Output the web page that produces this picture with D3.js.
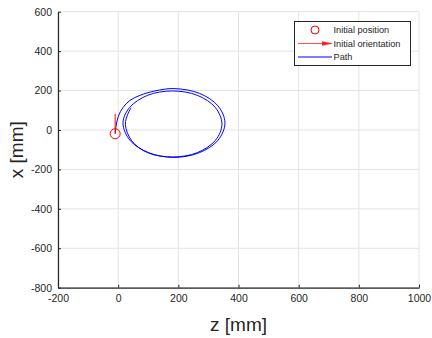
<!DOCTYPE html>
<html>
<head>
<meta charset="utf-8">
<script src="https://cdn.jsdelivr.net/npm/d3@7"></script>
<style>
  html, body { margin: 0; padding: 0; background: #fff; }
  svg { display: block; }
  text { font-family: "Liberation Sans", Arial, Helvetica, sans-serif; }
</style>
</head>
<body>
<svg id="chart" width="432" height="338"></svg>
<script>
// Axis ticks
const zTicks = [-200, 0, 200, 400, 600, 800, 1000];
const xTicks = [-800, -600, -400, -200, 0, 200, 400, 600];

// Initial position (z, x) in mm and initial orientation end point
const startZ = -10;
const startX = -19;
const orientEndZ = -10;
const orientEndX = 82;

// Trajectory samples: z [mm]
const pathZ = [-10, -7, 1, 16, 39, 73, 122, 186, 270, 332, 355, 332, 270, 186, 101, 39,
               16, 38, 98, 181, 263, 323, 345, 323, 263, 181, 98, 45, 24, 33, 43];
// Trajectory samples: x [mm]
const pathX = [-19, 20, 71, 114, 150, 176, 198, 210, 186, 122, 36, -52, -115, -139, -115, -52,
               36, 114, 176, 198, 176, 114, 30, -53, -115, -137, -115, -55, 28, 84, 112];

const legendLabels = ["Initial position", "Initial orientation", "Path"];

const svg = d3.select("#chart");
const margin = { left: 58, right: 13, top: 11.7, bottom: 50.3 };
const W = 432, H = 338;

const zScale = d3.scaleLinear().domain([-200, 1000]).range([margin.left, W - margin.right]);
const xScale = d3.scaleLinear().domain([-800, 600]).range([H - margin.bottom, margin.top]);

const textColor = "#262626";
const gridColor = "#e3e3e3";

// Grid
const grid = svg.append("g");
grid.selectAll("line.v").data(zTicks).enter().append("line")
  .attr("x1", d => zScale(d)).attr("x2", d => zScale(d))
  .attr("y1", xScale(600)).attr("y2", xScale(-800))
  .attr("stroke", gridColor).attr("stroke-width", 1);
grid.selectAll("line.h").data(xTicks).enter().append("line")
  .attr("x1", zScale(-200)).attr("x2", zScale(1000))
  .attr("y1", d => xScale(d)).attr("y2", d => xScale(d))
  .attr("stroke", gridColor).attr("stroke-width", 1);

// Axes with inward ticks
const fmt = d => String(d);
const xAxisG = svg.append("g")
  .attr("transform", `translate(0,${xScale(-800)})`)
  .call(d3.axisBottom(zScale).tickValues(zTicks).tickFormat(fmt)
        .tickSizeInner(-3).tickSizeOuter(0).tickPadding(10));
const yAxisG = svg.append("g")
  .attr("transform", `translate(${zScale(-200)},0)`)
  .call(d3.axisLeft(xScale).tickValues(xTicks).tickFormat(fmt)
        .tickSizeInner(-3).tickSizeOuter(0).tickPadding(6));

[xAxisG, yAxisG].forEach(g => {
  g.select(".domain").attr("stroke", textColor).attr("stroke-width", 1.2);
  g.selectAll(".tick line").attr("stroke", textColor);
  g.selectAll(".tick text").attr("fill", textColor)
    .style("font-size", "10.5px")
    .style("font-family", "'Liberation Sans', Arial, sans-serif");
});
xAxisG.selectAll(".tick text").attr("dy", "0.71em").attr("y", 7);

// Axis titles
svg.append("text")
  .attr("x", (zScale(-200) + zScale(1000)) / 2)
  .attr("y", 331)
  .attr("text-anchor", "middle")
  .attr("fill", textColor)
  .style("font-size", "19px")
  .text("z [mm]");
svg.append("text")
  .attr("transform", `translate(23,${(xScale(600) + xScale(-800)) / 2}) rotate(-90)`)
  .attr("text-anchor", "middle")
  .attr("fill", textColor)
  .style("font-size", "19px")
  .text("x [mm]");

// Path
const pts = pathZ.map((z, i) => [z, pathX[i]]);
const line = d3.line()
  .x(d => zScale(d[0]))
  .y(d => xScale(d[1]))
  .curve(d3.curveCatmullRom.alpha(0.5));
svg.append("path")
  .attr("d", line(pts))
  .attr("fill", "none")
  .attr("stroke", "#0000ff")
  .attr("stroke-width", 1);

// Initial orientation
svg.append("line")
  .attr("x1", zScale(startZ)).attr("y1", xScale(startX))
  .attr("x2", zScale(orientEndZ)).attr("y2", xScale(orientEndX))
  .attr("stroke", "#ff0000").attr("stroke-width", 1);

// Initial position
svg.append("circle")
  .attr("cx", zScale(startZ)).attr("cy", xScale(startX))
  .attr("r", 5)
  .attr("fill", "none")
  .attr("stroke", "#ff0000").attr("stroke-width", 1);

// Legend
const lg = svg.append("g");
lg.append("rect")
  .attr("x", 294.5).attr("y", 21.5).attr("width", 116).attr("height", 44)
  .attr("fill", "#fff").attr("stroke", "#262626").attr("stroke-width", 1);
const rowY = [30, 43.5, 57];
lg.append("circle").attr("cx", 315).attr("cy", rowY[0]).attr("r", 4)
  .attr("fill", "none").attr("stroke", "#ff0000").attr("stroke-width", 1);
lg.append("line").attr("x1", 298).attr("x2", 324).attr("y1", rowY[1]).attr("y2", rowY[1])
  .attr("stroke", "#ff4d4d").attr("stroke-width", 1);
lg.append("path")
  .attr("d", `M322,${rowY[1] - 2.2} L333,${rowY[1]} L322,${rowY[1] + 2.2} Z`)
  .attr("fill", "#ff2020").attr("stroke", "none");
lg.append("line").attr("x1", 298).attr("x2", 332).attr("y1", rowY[2]).attr("y2", rowY[2])
  .attr("stroke", "#0000ff").attr("stroke-width", 1);
lg.selectAll("text.lbl").data(legendLabels).enter().append("text")
  .attr("x", 333.5)
  .attr("y", (d, i) => rowY[i] + 3.3)
  .attr("fill", textColor)
  .style("font-size", "9.2px")
  .text(d => d);
</script>
</body>
</html>
